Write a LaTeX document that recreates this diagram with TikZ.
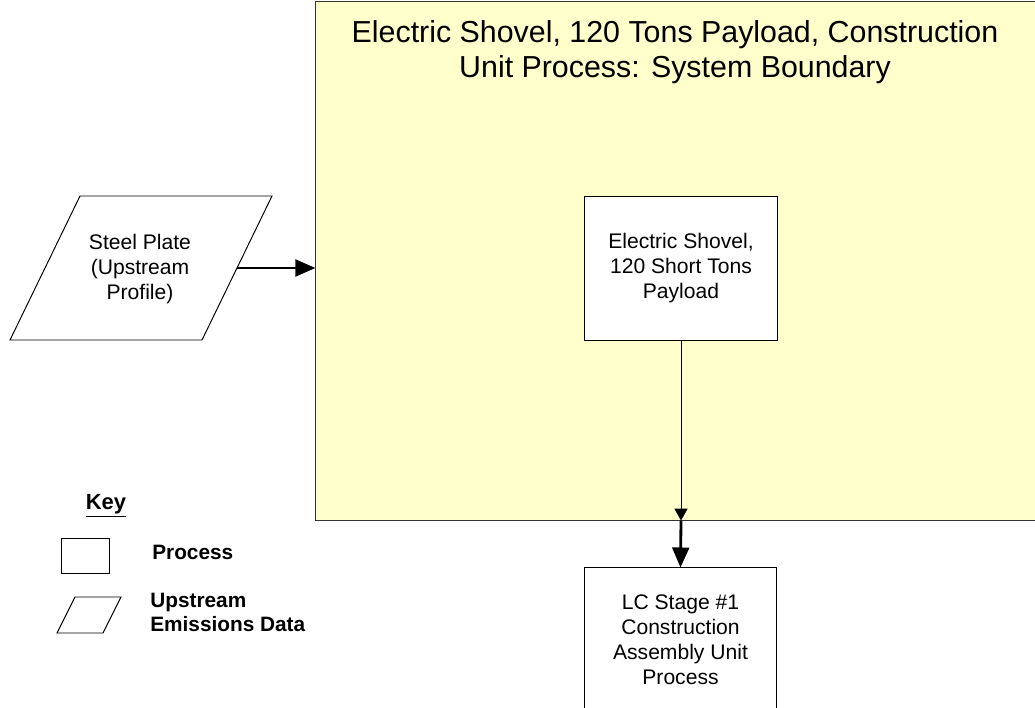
\documentclass[tikz,border=0pt]{standalone}
\usepackage{fontspec}
\setmainfont{Liberation Sans}
\usetikzlibrary{arrows.meta}
\definecolor{boundfill}{HTML}{FFFFCC}

\begin{document}
\begin{tikzpicture}[x=0.025cm,y=-0.025cm,
  txt/.style={font=\fontsize{15}{17.8}\selectfont,align=center},
  proc/.style={txt,draw,line width=0.7pt,fill=white,minimum width=4.8cm,minimum height=3.6cm,inner sep=0pt},
  keytxt/.style={font=\fontsize{14.8}{17}\bfseries\selectfont,align=left,anchor=west,inner sep=0pt},
  thickarrow/.style={line width=2pt,-{Triangle[length=0.5cm,width=0.42cm]}},
  thinarrow/.style={line width=0.7pt,-{Triangle[length=0.3cm,width=0.33cm]}}]
\useasboundingbox (0,0) rectangle (1035,708);

\node[draw=black!80,line width=0.7pt,fill=boundfill,minimum width=18.1cm,minimum height=12.95cm,inner sep=0pt] (boundary) at (678,261) {};
\node[font=\fontsize{21.6}{24.9}\selectfont,align=center] (title) at (675,52.5)
  {Electric Shovel, 120 Tons Payload, Construction\\Unit Process: System Boundary};

\draw[line width=0.7pt,fill=white] (80,196) --(272,196) --(202,340) --(10,340) --cycle;
\node[txt] (plate) at (140,269) {Steel Plate\\(Upstream\\Profile)};
\coordinate (plate out) at (237,268);

\node[proc] (shovel) at (681,268.5) {Electric Shovel,\\120 Short Tons\\Payload};
\node[proc] (lc) at (680.5,640) {LC Stage \#1\\Construction\\Assembly Unit\\Process};

\draw[thickarrow] (plate out) -- (plate out -| boundary.west);
\draw[thinarrow] (shovel.south) -- (shovel.south |- boundary.south);
\draw[thickarrow] (shovel.south |- boundary.south) -- (lc.north);

\node[font=\fontsize{15.6}{18}\bfseries\selectfont] (key) at (106,506) {\underline{Key}};
\draw[line width=0.7pt] (61,538) rectangle (109,573);
\node[keytxt] (keyproc) at (152,552) {Process};
\draw[line width=0.7pt] (75,597) --(121,597) --(103,633) --(57,633) --cycle;
\node[keytxt] (keyup) at (150,612) {Upstream\\Emissions Data};
\end{tikzpicture}
\end{document}
